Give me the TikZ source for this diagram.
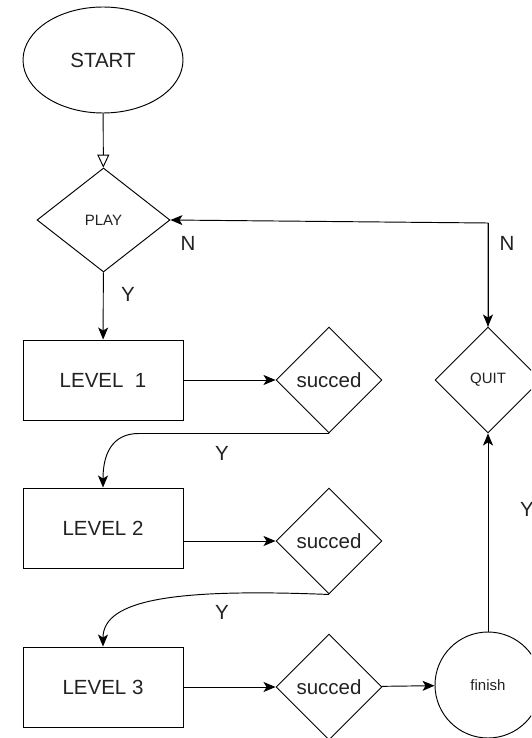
\documentclass[tikz,border=0pt]{standalone}
\usepackage{fontspec}
\setmainfont{Liberation Sans}
\usetikzlibrary{shapes.geometric, arrows.meta}
\definecolor{txt}{HTML}{222222}
\begin{document}
\begin{tikzpicture}[x=1pt, y=-1pt, line width=0.95pt,
  big/.style={font=\fontsize{20.5}{24}\selectfont, text=txt},
  small/.style={font=\fontsize{15}{18}\selectfont, text=txt},
  box/.style={draw, rectangle, minimum width=160pt, minimum height=80pt, inner sep=0pt, big},
  dec/.style={draw, diamond, minimum width=106pt, minimum height=106pt, inner sep=0pt, big},
  lbl/.style={big, inner sep=0pt},
  arr/.style={-{Stealth[length=12pt, width=10pt, inset=3pt]}}
]
\clip (0,0) rectangle (531,738);
\fill[white] (0,0) rectangle (531,738);

\node[draw, ellipse, minimum width=160pt, minimum height=106pt, inner sep=0pt, big] (start) at (103,60) {START};
\node[draw, diamond, minimum width=133pt, minimum height=104pt, inner sep=0pt, small] (play) at (103.5,220) {PLAY};

\node[box] (l1) at (103,380) {LEVEL\ \ 1};
\node[box] (l2) at (103,528) {LEVEL 2};
\node[box] (l3) at (103,687) {LEVEL 3};

\node[dec] (s1) at (329,380) {succed};
\node[dec] (s2) at (329,541) {succed};
\node[dec] (s3) at (329,687) {succed};

\node[dec, small] (quit) at (488,380) {QUIT};
\node[draw, circle, minimum size=106pt, inner sep=0pt, small] (fin) at (488,685) {finish};

\draw[-{Triangle[open, length=13pt, width=12pt]}] (start) -- (play);
\draw[arr] (play) -- (l1);
\node[lbl] (y0) at (128,294) {Y};

\draw[arr] (quit.north) -- (488,223) coordinate (qc) -- (play.east);
\draw[arr] (qc) -- (quit.north);
\node[lbl] (n1) at (188,243) {N};
\node[lbl] (n2) at (507,243) {N};

\draw[arr] (l1) -- (s1);
\draw[arr] (s1.south) -- ++(-190,0) .. controls +(-28,0) and +(0,-32) .. (l2.north);
\node[lbl] (y1) at (222,453) {Y};

\draw[arr] (l2.east |- s2.west) -- (s2.west);
\draw[arr] (s2.south) .. controls +(-150,-6) and +(0,-48) .. (l3.north);
\node[lbl] (y2) at (222,612) {Y};

\draw[arr] (l3) -- (s3);
\draw[arr] (s3) -- (fin);
\draw[arr] (fin) -- (quit);
\node[lbl] (y3) at (527,509) {Y};
\end{tikzpicture}
\end{document}
